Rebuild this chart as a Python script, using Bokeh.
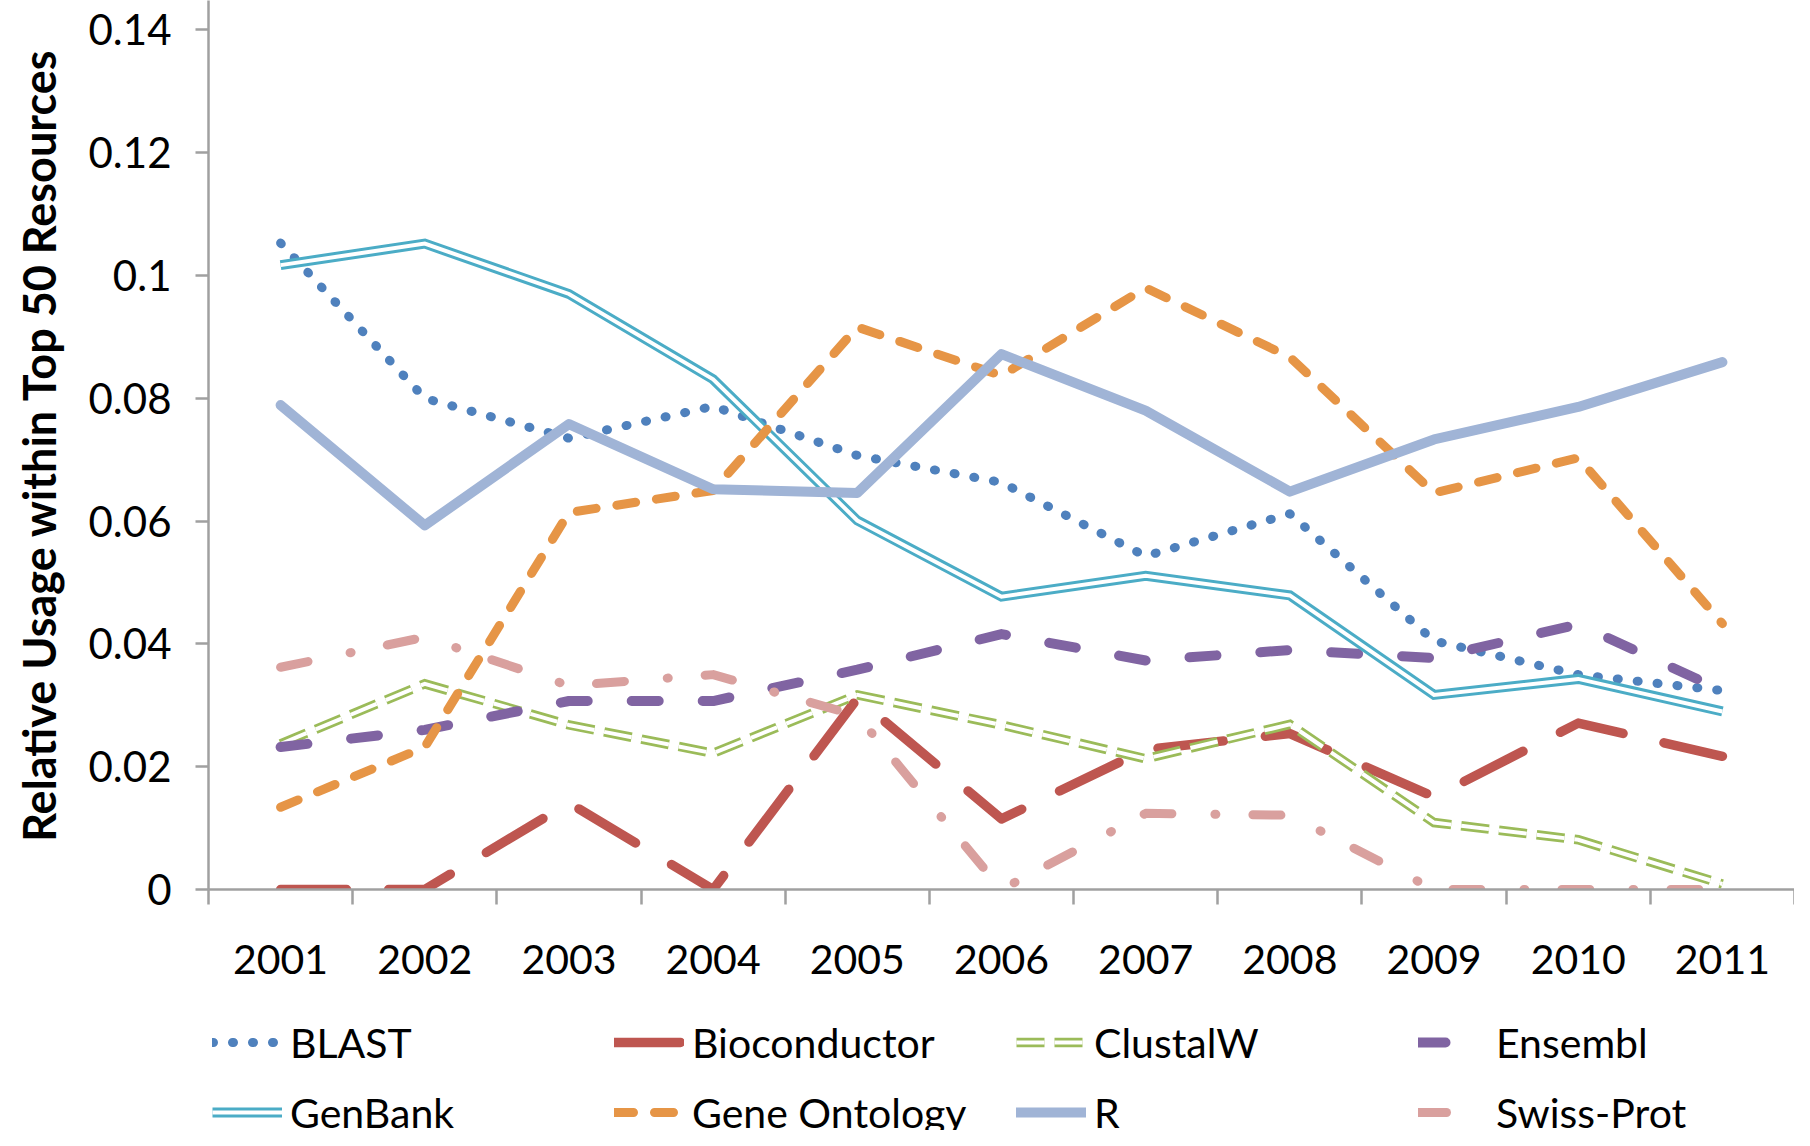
from bokeh.plotting import figure
from bokeh.layouts import column
from bokeh.models import Range1d, FixedTicker, Legend, LegendItem
from bokeh.embed import file_html
from bokeh.resources import INLINE

years = [2001, 2002, 2003, 2004, 2005, 2006, 2007, 2008, 2009, 2010, 2011]

blast = [0.1053, 0.0800, 0.0735, 0.0787, 0.0707, 0.0663, 0.0543, 0.0612, 0.0405, 0.0350, 0.0324]
bioconductor = [0.0, 0.0, 0.0141, 0.0, 0.0311, 0.0115, 0.0228, 0.0254, 0.0151, 0.0271, 0.0217]
clustalw = [0.0237, 0.0335, 0.0268, 0.0222, 0.0317, 0.0268, 0.0213, 0.0269, 0.0109, 0.0081, 0.0009]
ensembl = [0.0232, 0.0260, 0.0307, 0.0307, 0.0358, 0.0416, 0.0373, 0.0390, 0.0377, 0.0432, 0.0324]
genbank = [0.1017, 0.1052, 0.0970, 0.0831, 0.0601, 0.0477, 0.0511, 0.0479, 0.0317, 0.0343, 0.0290]
gene_ontology = [0.0134, 0.0232, 0.0614, 0.0650, 0.0916, 0.0837, 0.0980, 0.0867, 0.0646, 0.0703, 0.0433]
r_usage = [0.0789, 0.0593, 0.0758, 0.0652, 0.0646, 0.0872, 0.0780, 0.0648, 0.0733, 0.0786, 0.0859]
swiss_prot = [0.0362, 0.0411, 0.0332, 0.0350, 0.0283, 0.0, 0.0124, 0.0121, 0.0, 0.0, 0.0]

series_names = ["BLAST", "Bioconductor", "ClustalW", "Ensembl", "GenBank", "Gene Ontology", "R", "Swiss-Prot"]
series_values = [blast, bioconductor, clustalw, ensembl, genbank, gene_ontology, r_usage, swiss_prot]

y_ticks = [0.0, 0.02, 0.04, 0.06, 0.08, 0.1, 0.12, 0.14]
y_tick_labels = ["0", "0.02", "0.04", "0.06", "0.08", "0.1", "0.12", "0.14"]
y_title = "Relative Usage within Top 50 Resources"

FONT = "Lato"
AXIS_GRAY = "#A0A0A0"

# line styles: list of stroke layers per series
styles = {
    "BLAST": [dict(line_color="#4F81BD", line_width=9, line_dash="1 19", line_cap="round", line_join="round")],
    "Bioconductor": [dict(line_color="#BE5650", line_width=9.5, line_dash="66 42", line_cap="round", line_join="round")],
    "ClustalW": [dict(line_color="#9BBB59", line_width=9.5, line_dash="28 10", line_cap="butt", line_join="miter"),
                 dict(line_color="white", line_width=4, line_dash="28 10", line_cap="butt", line_join="miter")],
    "Ensembl": [dict(line_color="#8064A2", line_width=10, line_dash="27 44", line_cap="round", line_join="round")],
    "GenBank": [dict(line_color="#4BACC6", line_width=10, line_join="miter"),
                dict(line_color="white", line_width=4, line_join="miter")],
    "Gene Ontology": [dict(line_color="#E69546", line_width=9, line_dash="19 21", line_cap="round", line_join="round")],
    "R": [dict(line_color="#A0B4D6", line_width=10, line_cap="round", line_join="round")],
    "Swiss-Prot": [dict(line_color="#D9A09E", line_width=9, line_dash="28 43 1 37", line_cap="round", line_join="round")],
}

p = figure(frame_width=1586, frame_height=889,
           x_range=Range1d(2000.5, 2011.5), y_range=Range1d(0, 0.1448),
           output_backend="svg", toolbar_location=None,
           min_border_left=208, min_border_right=0, min_border_top=0, min_border_bottom=101,
           background_fill_color="white", border_fill_color="white")
p.outline_line_color = None
p.grid.visible = False

# x axis
xa = p.xaxis[0]
xa.ticker = FixedTicker(ticks=years, minor_ticks=[y - 0.5 for y in years] + [years[-1] + 0.5])
xa.major_label_overrides = {y: str(y) for y in years}
xa.major_tick_out = 0
xa.major_tick_in = 0
xa.minor_tick_out = 15
xa.minor_tick_in = 0
xa.minor_tick_line_color = AXIS_GRAY
xa.minor_tick_line_width = 2.5
xa.axis_line_color = AXIS_GRAY
xa.axis_line_width = 2.5
xa.major_label_text_font = FONT
xa.major_label_text_font_size = "41px"
xa.major_label_text_color = "black"
xa.major_label_standoff = 40

# y axis
ya = p.yaxis[0]
ya.ticker = FixedTicker(ticks=y_ticks, minor_ticks=[])
ya.major_label_overrides = {t: s for t, s in zip(y_ticks, y_tick_labels)}
ya.major_tick_out = 13
ya.major_tick_in = 0
ya.major_tick_line_color = AXIS_GRAY
ya.major_tick_line_width = 2.5
ya.axis_line_color = AXIS_GRAY
ya.axis_line_width = 2.5
ya.major_label_text_font = FONT
ya.major_label_text_font_size = "42px"
ya.major_label_text_color = "black"
ya.major_label_standoff = 24
ya.axis_label = y_title
ya.axis_label_text_font = FONT
ya.axis_label_text_font_size = "45px"
ya.axis_label_text_font_style = "bold"
ya.axis_label_text_color = "black"
ya.axis_label_standoff = 20

for name, vals in zip(series_names, series_values):
    for st in styles[name]:
        p.line(years, vals, **st)

# legend panel (separate figure below the chart); its sample renderers reuse the
# series data, which lies outside this panel's ranges, so only the legend shows
lg = figure(width=1794, height=140, x_range=Range1d(0, 1), y_range=Range1d(0, 1),
            output_backend="svg", toolbar_location=None,
            x_axis_type=None, y_axis_type=None,
            min_border_left=0, min_border_right=0, min_border_top=0, min_border_bottom=0,
            background_fill_color="white", border_fill_color="white")
lg.outline_line_color = None
lg.grid.visible = False

items = []
for name, vals in zip(series_names, series_values):
    rs = [lg.line(years, vals, **st) for st in styles[name]]
    items.append(LegendItem(label=name, renderers=rs))

legend = Legend(items=items, location=(4, -8), orientation="horizontal", ncols=4,
                glyph_width=70, glyph_height=52, label_height=52, label_width=306,
                label_standoff=8, spacing=18, padding=0, margin=0,
                border_line_alpha=0, background_fill_alpha=0,
                label_text_font=FONT, label_text_font_size="41px", label_text_color="black")
lg.add_layout(legend, "center")

layout = column(p, lg, spacing=0)
open("out.html", "w").write(file_html(layout, INLINE))
